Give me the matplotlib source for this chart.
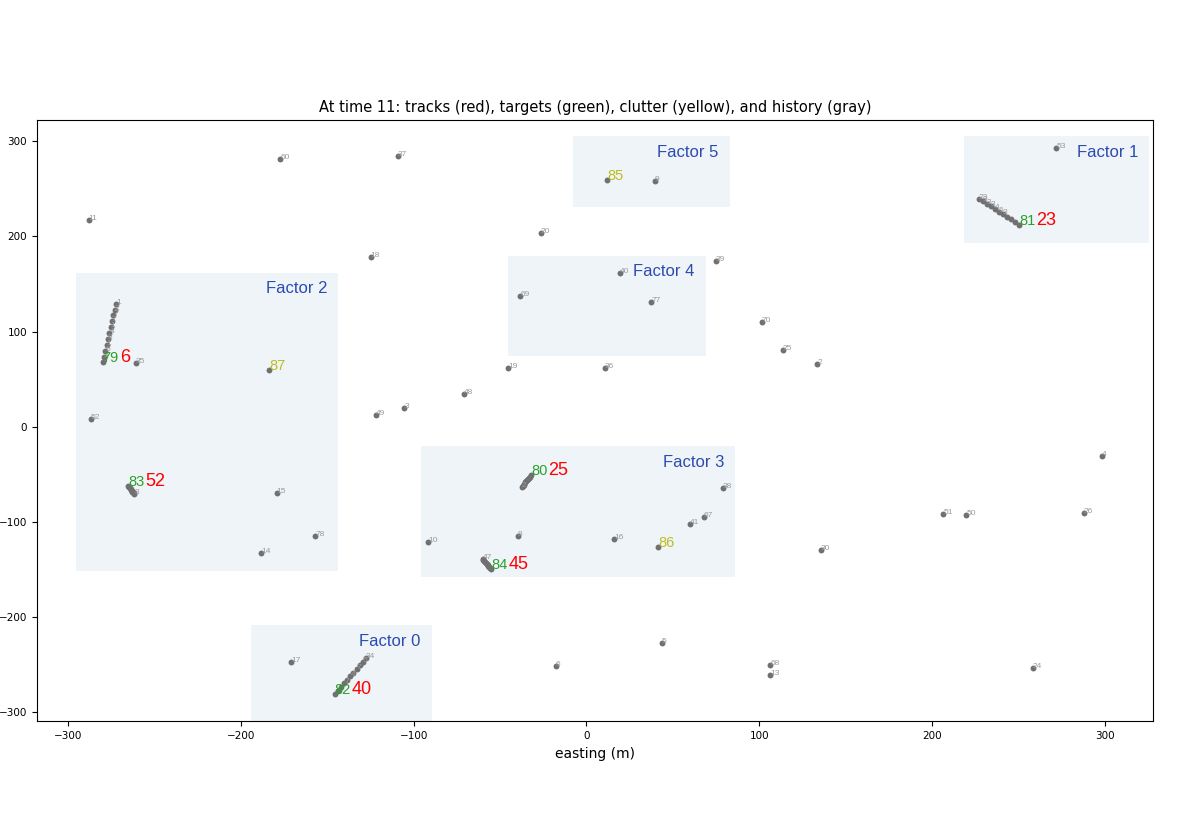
import matplotlib
matplotlib.use("Agg")
import matplotlib.pyplot as plt
from matplotlib.patches import Rectangle

plt.rcParams['font.family'] = ['DejaVu Sans']
ANN_FONT = ['Liberation Sans', 'DejaVu Sans']

# ---- history (gray) single points: label, x, y ----
hist_labels = ["60", "37", "11", "18", "20", "9", "53", "40", "39", "69", "77", "19", "36",
               "48", "3", "49", "35", "52", "15", "78", "14", "17", "38", "67", "41", "10",
               "8", "16", "70", "25", "2", "30", "4", "51", "50", "26", "24", "6", "5", "68", "13"]
hist_x = [-177.0, -109.2, -288.0, -124.9, -26.5, 39.6, 271.8, 19.2, 74.9, -38.3, 37.5, -45.4, 10.7,
          -70.7, -105.4, -121.8, -260.5, -286.7, -179.2, -156.9, -188.3, -171.0, 78.8, 68.0, 59.9, -91.7,
          -39.8, 15.9, 101.4, 113.7, 133.5, 135.7, 298.1, 206.3, 219.8, 287.7, 258.3, -17.6, 43.7, 106.3, 106.3]
hist_y = [281.1, 284.5, 217.7, 178.4, 203.6, 258.0, 292.9, 161.6, 174.6, 137.9, 131.1, 62.0, 62.2,
          34.1, 20.2, 12.8, 67.0, 8.2, -69.1, -114.3, -132.6, -247.1, -64.3, -94.4, -102.4, -120.6,
          -115.1, -117.9, 110.1, 81.1, 66.0, -129.8, -30.7, -91.6, -92.7, -90.6, -253.4, -250.9, -227.2, -249.9, -260.8]

# ---- clutter (yellow) ----
clutter_labels = ["85", "87", "86"]
clutter_x = [12.0, -183.7, 41.5]
clutter_y = [259.7, 60.1, -126.3]

# ---- tracks: history chains (gray) ending at target (green) with track id (red) ----
track_ids = ["6", "52", "40", "25", "45", "23"]
target_ids = ["79", "83", "82", "80", "84", "81"]

chain6_x = [-272.2, -273.0, -273.8, -274.6, -275.3, -276.0, -276.9, -277.6, -278.3, -279.0, -279.9]
chain6_y = [129.5, 123.1, 117.0, 110.8, 104.6, 98.4, 92.2, 86.0, 79.9, 73.5, 67.8]
chain6_lab = ["1", "2", "7", "7", "1", "4", "8", "1", "5", "3", ""]

chain52_x = [-261.5, -261.9, -262.3, -262.6, -263.0, -263.3, -263.7, -264.0, -264.4, -264.8, -265.1]
chain52_y = [-70.5, -69.6, -68.8, -68.0, -67.1, -66.3, -65.4, -64.6, -63.7, -62.9, -62.0]
chain52_lab = ["8", "", "", "", "", "", "", "", "", "", ""]

chain40_x = [-127.6, -129.4, -131.2, -133.0, -134.8, -136.6, -138.4, -140.2, -142.0, -143.9, -145.7]
chain40_y = [-242.9, -246.7, -250.6, -254.4, -258.2, -262.0, -265.8, -269.6, -273.4, -277.3, -281.1]
chain40_lab = ["34", "5", "", "7", "", "4", "", "7", "", "", ""]

chain25_x = [-37.5, -37.0, -36.4, -35.9, -35.3, -34.8, -34.3, -33.7, -33.2, -32.6, -32.1]
chain25_y = [-63.3, -62.1, -60.9, -59.6, -58.4, -57.2, -56.0, -54.8, -53.6, -52.3, -51.1]
chain25_lab = ["2", "", "", "", "", "", "", "", "", "", ""]

chain45_x = [-60.1, -59.6, -59.2, -58.7, -58.2, -57.7, -57.2, -56.7, -56.2, -55.8, -55.3]
chain45_y = [-138.5, -139.6, -140.6, -141.7, -142.7, -143.8, -144.8, -145.9, -146.9, -148.0, -149.0]
chain45_lab = ["47", "", "", "", "", "", "", "", "", "", ""]

chain23_x = [226.9, 229.2, 231.5, 233.9, 236.2, 238.5, 240.8, 243.1, 245.4, 247.8, 250.1]
chain23_y = [239.8, 237.1, 234.4, 231.6, 228.9, 226.2, 223.4, 220.7, 218.0, 215.2, 212.5]
chain23_lab = ["23", "9", "3", "3", "4", "6", "3", "", "", "", ""]

chains_x = [chain6_x, chain52_x, chain40_x, chain25_x, chain45_x, chain23_x]
chains_y = [chain6_y, chain52_y, chain40_y, chain25_y, chain45_y, chain23_y]
chains_lab = [chain6_lab, chain52_lab, chain40_lab, chain25_lab, chain45_lab, chain23_lab]

# ---- factor boxes: name, x0, x1, y0, y1 ----
factor_names = ["Factor 0", "Factor 1", "Factor 2", "Factor 3", "Factor 4", "Factor 5"]
factor_x0 = [-194.1, 218.4, -295.4, -95.8, -45.4, -7.8]
factor_x1 = [-89.6, 325.5, -143.5, 85.9, 69.0, 83.0]
factor_y0 = [-330.0, 193.1, -151.5, -157.8, 74.1, 230.6]
factor_y1 = [-208.6, 305.2, 161.6, -20.5, 179.9, 305.2]

fig = plt.figure(figsize=(11.84, 8.30), dpi=100)
ax = fig.add_axes([0.031, 0.131, 0.943, 0.724])

box_color = '#eff4f8'
factor_color = '#2b4bb0'
dot_color = '#707070'
lab_color = '#9a9a9a'

for name, x0, x1, y0, y1 in zip(factor_names, factor_x0, factor_x1, factor_y0, factor_y1):
    ax.add_patch(Rectangle((x0, y0), x1 - x0, y1 - y0, facecolor=box_color,
                           edgecolor='none', zorder=0))
    ax.annotate(name, xy=(x1, y1), xytext=(-8, -6), textcoords='offset points',
                ha='right', va='top', fontsize=12, color=factor_color, zorder=5,
                family=ANN_FONT)

# history singles
ax.scatter(hist_x, hist_y, s=18, color=dot_color, zorder=2, linewidths=0)
for l, x, y in zip(hist_labels, hist_x, hist_y):
    ax.text(x, y, l, fontsize=6, color=lab_color, zorder=3, family=ANN_FONT)

# clutter
ax.scatter(clutter_x, clutter_y, s=18, color=dot_color, zorder=2, linewidths=0)
for l, x, y in zip(clutter_labels, clutter_x, clutter_y):
    ax.text(x, y, l, fontsize=10.5, color='#bcbd22', zorder=4, family=ANN_FONT)

# tracks
for tid, gid, cx, cy, cl in zip(track_ids, target_ids, chains_x, chains_y, chains_lab):
    ax.scatter(cx, cy, s=18, color=dot_color, zorder=2, linewidths=0)
    for l, x, y in zip(cl, cx, cy):
        if l:
            ax.text(x, y, l, fontsize=6, color=lab_color, zorder=3, family=ANN_FONT)
    ax.text(cx[-1], cy[-1], gid, fontsize=10.5, color='#2ca02c', zorder=4, family=ANN_FONT)
    ax.text(cx[-1] + 10, cy[-1], tid, fontsize=13, color='red', zorder=4, family=ANN_FONT)

ax.set_xlim(-318, 327.8)
ax.set_ylim(-309.4, 322)
ax.set_xticks([-300, -200, -100, 0, 100, 200, 300])
ax.set_yticks([-300, -200, -100, 0, 100, 200, 300])
ax.tick_params(labelsize=7.5)
ax.set_xlabel('easting (m)', fontsize=10)
ax.set_title('At time 11: tracks (red), targets (green), clutter (yellow), and history (gray)',
             fontsize=10.5)

fig.savefig('out.png', dpi=100)
